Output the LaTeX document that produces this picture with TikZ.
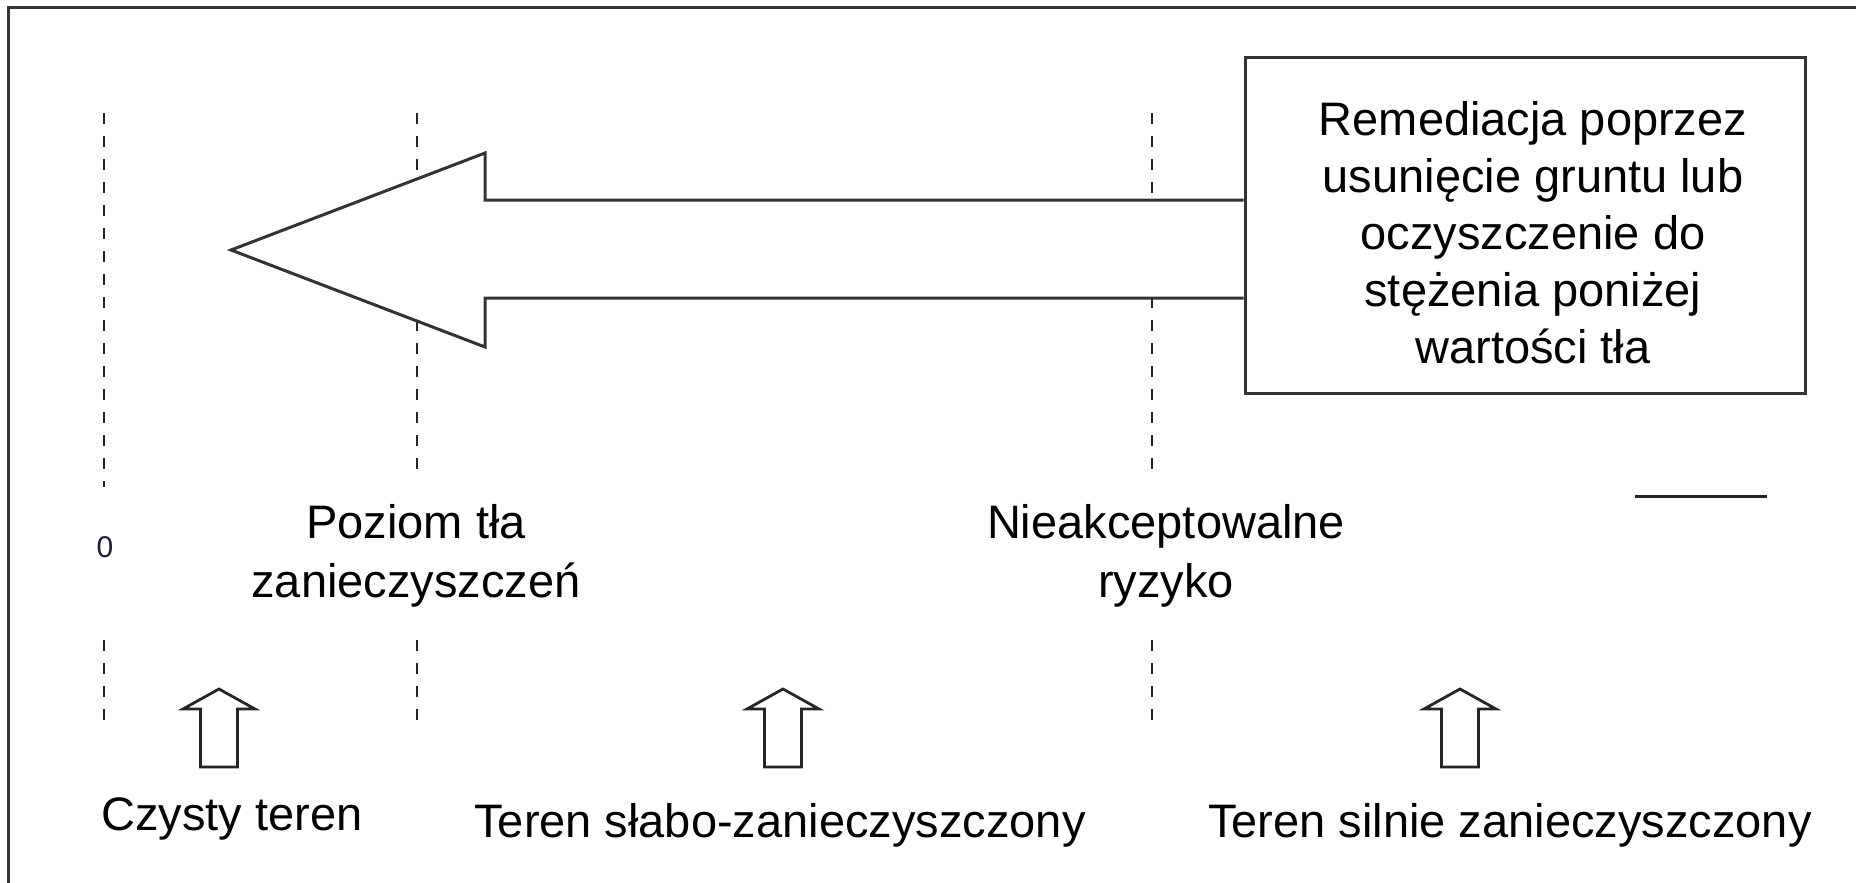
\documentclass[tikz,border=0pt]{standalone}
\usepackage{fontspec}
\setmainfont{Liberation Sans}
\begin{document}
\begin{tikzpicture}[x=1pt,y=-1pt,
  lbl/.style={font=\fontsize{47}{59}\selectfont, align=center, anchor=base, inner sep=0pt},
  dashln/.style={line width=2.6pt, dash pattern=on 11pt off 12pt, black!85},
  outl/.style={line width=3pt, draw=black!80, fill=white, line join=miter},
  upar/.style={line width=2.8pt, draw=black!85, fill=white}
]
\useasboundingbox (0,0) rectangle (1856,883);
% frame (top and left only)
\draw[line width=3.5pt, black!80] (8.5,883) -- (8.5,7.5) -- (1856,7.5);

% dashed level lines
\draw[dashln] (104,113) -- (104,487);
\draw[dashln] (104,640) -- (104,720);
\draw[dashln] (417,113) -- (417,480);
\draw[dashln] (417,640) -- (417,720);
\draw[dashln] (1152,113) -- (1152,480);
\draw[dashln] (1152,640) -- (1152,720);

% remediation box
\node[draw=black!80, line width=3pt, minimum width=560pt, minimum height=335pt, inner sep=0pt] (box) at (1525,225.5) {};
\node[font=\fontsize{47}{57}\selectfont, align=center, anchor=base, inner sep=0pt] (boxtext) at (1533,363)
  {Remediacja poprzez\\usunięcie gruntu lub\\oczyszczenie do\\stężenia poniżej\\wartości tła};

% big arrow from the box to the left
\coordinate (shT) at (box.west |- 0,200);
\coordinate (shB) at (box.west |- 0,298);
\draw[outl] (shT) -- (485,200) -- (485,153) -- (231,250) -- (485,347) -- (485,298) -- (shB);

% labels of levels
\node[font=\fontsize{30}{36}\selectfont, text={rgb,255:red,30;green,30;blue,60}, inner sep=0pt] (zero) at (105,547) {0};
\node[lbl] (poziom) at (416,597) {Poziom tła\\zanieczyszczeń};
\node[lbl] (ryzyko) at (1166,597) {Nieakceptowalne\\ryzyko};

% short solid line
\coordinate (sl1) at (1635,496);
\coordinate (sl2) at (1767,496);
\draw[line width=3pt, black!85] (sl1) -- (sl2);

% small up arrows
\foreach \x/\n in {219/ua1, 783/ua2, 1460/ua3}{
  \draw[upar] (\x-18.5,767) -- (\x-18.5,709) -- (\x-36,709) -- (\x,689) -- (\x+36,709) -- (\x+18.5,709) -- (\x+18.5,767) -- cycle;
}

% bottom labels
\node[lbl] (czysty) at (232,830) {Czysty teren};
\node[lbl] (slabo) at (780,837) {Teren słabo-zanieczyszczony};
\node[lbl] (silnie) at (1510,837) {Teren silnie zanieczyszczony};
\end{tikzpicture}
\end{document}
